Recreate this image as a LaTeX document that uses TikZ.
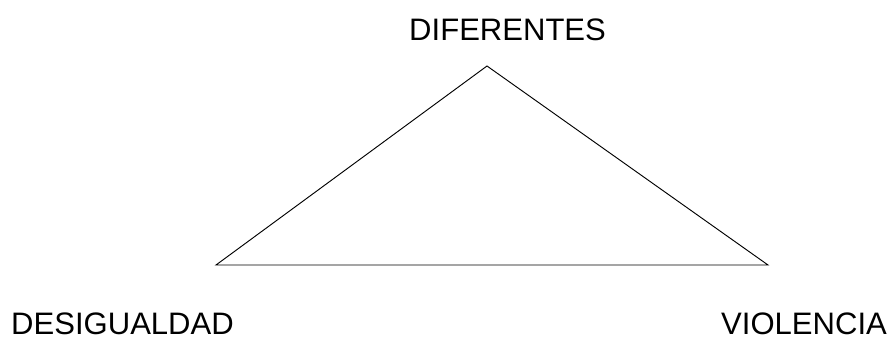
\documentclass[tikz,border=0pt]{standalone}
\usepackage{fontspec}
\setmainfont{Liberation Sans}
\usetikzlibrary{positioning}
\tikzset{
  cornerlabel/.style={font=\fontsize{26.5}{30}\selectfont,inner sep=0pt,
    text depth=0pt,anchor=base west}
}

\begin{document}
\begin{tikzpicture}[x=0.03cm,y=-0.03cm]
  \useasboundingbox (0,0) rectangle (892,338);
  % --- Triangle corners ---
  \coordinate (apex)  at (487,66);
  \coordinate (left)  at (216,265);
  \coordinate (right) at (768,265);
  \draw[line width=0.8pt] (apex)--(left)--(right)--cycle;

  % --- Labels ---
  \node[cornerlabel] (dif) at (409,41) {DIFERENTES};
  \node[cornerlabel] (des) at (11,334) {DESIGUALDAD};
  \node[cornerlabel] (vio) at (721,334) {VIOLENCIA};
\end{tikzpicture}
\end{document}
